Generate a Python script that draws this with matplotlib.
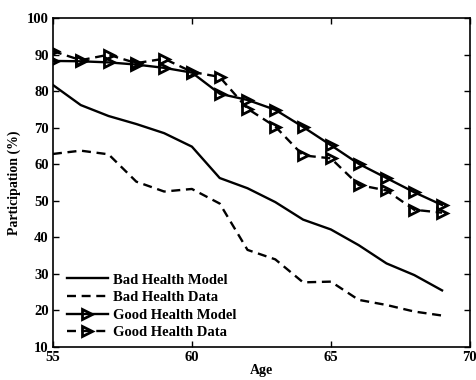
import matplotlib
matplotlib.use("Agg")
import matplotlib.pyplot as plt

ages = [55, 56, 57, 58, 59, 60, 61, 62, 63, 64, 65, 66, 67, 68, 69]
bad_model = [81.7, 76.2, 73.2, 71.0, 68.5, 64.8, 56.2, 53.4, 49.6, 44.8, 42.1, 37.8, 32.8, 29.6, 25.4]
bad_data = [62.8, 63.7, 62.7, 55.2, 52.5, 53.2, 49.2, 36.5, 33.9, 27.6, 27.8, 22.8, 21.4, 19.6, 18.5]
good_model = [88.3, 88.2, 87.9, 87.3, 86.4, 85.1, 79.3, 77.6, 74.9, 70.2, 65.2, 60.1, 56.2, 52.3, 48.8]
good_data = [91.0, 88.5, 90.0, 87.7, 88.9, 85.3, 83.9, 75.2, 70.3, 62.4, 61.6, 54.3, 52.8, 47.5, 46.7]

plt.rcParams["font.family"] = ["Liberation Serif", "DejaVu Serif"]
plt.rcParams["font.weight"] = "bold"

fig = plt.figure(figsize=(4.77, 3.80), dpi=100)
ax = fig.add_axes([0.111, 0.088, 0.874, 0.864])

lw = 1.7
dash = (0, (3.8, 2.4))
mk = dict(marker=">", markersize=6.5, markerfacecolor="none",
          markeredgecolor="black", markeredgewidth=2.0)

ax.plot(ages, bad_model, color="black", lw=lw, label="Bad Health Model")
ax.plot(ages, bad_data, color="black", lw=lw, linestyle=dash, label="Bad Health Data")
ax.plot(ages, good_model, color="black", lw=lw, label="Good Health Model", **mk)
ax.plot(ages, good_data, color="black", lw=lw, linestyle=dash, label="Good Health Data", **mk)

ax.set_xlim(55, 70)
ax.set_ylim(10, 100)
ax.set_xticks([55, 60, 65, 70])
ax.set_yticks(range(10, 101, 10))
ax.tick_params(direction="in", top=True, right=True, length=4, width=1,
               labelsize=10.5, pad=3)
for lab in ax.get_xticklabels() + ax.get_yticklabels():
    lab.set_fontweight("bold")
for s in ax.spines.values():
    s.set_linewidth(1.2)

ax.set_xlabel("Age", fontsize=10, fontweight="bold", labelpad=0)
ax.set_ylabel("Participation (%)", fontsize=10, fontweight="bold", labelpad=4)

leg = ax.legend(loc="lower left", frameon=False, fontsize=10.5, handlelength=2.8,
                handletextpad=0.35, labelspacing=0.3, borderaxespad=0.1,
                bbox_to_anchor=(0.016, 0.0))
for t in leg.get_texts():
    t.set_fontweight("bold")

fig.savefig("out.png", dpi=100)
